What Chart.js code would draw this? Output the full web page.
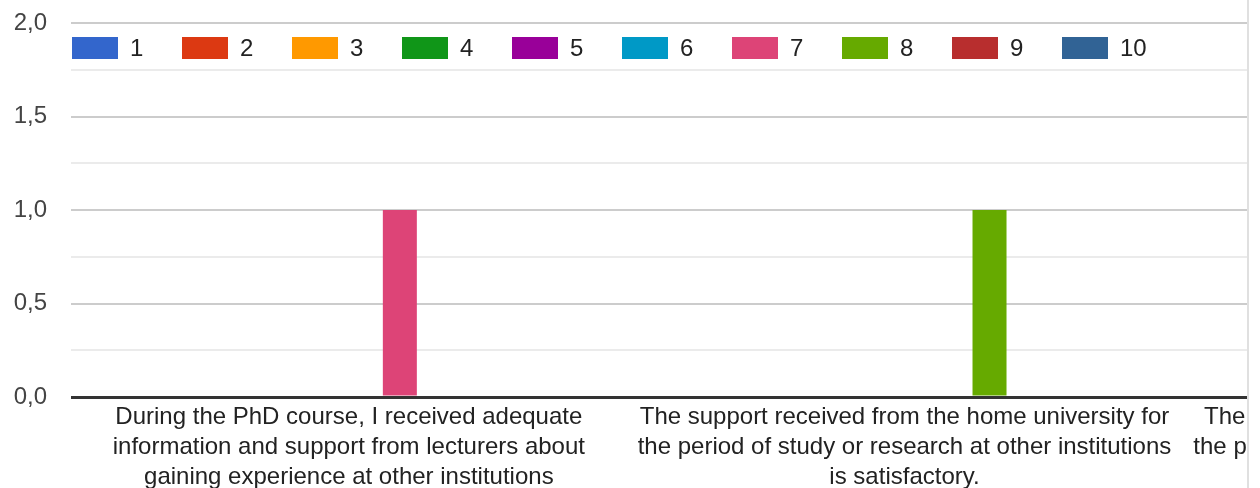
<!DOCTYPE html>
<html>
<head>
<meta charset="utf-8">
<script src="https://cdn.jsdelivr.net/npm/chart.js@4.4.1/dist/chart.umd.min.js"></script>
<style>
  html, body { margin: 0; padding: 0; background: #fff; overflow: hidden; }
  #wrap { width: 1247px; height: 488px; overflow: hidden; border-right: 2px solid #e0e0e0; position: relative; }
  #chart { display: block; }
</style>
</head>
<body>
<div id="wrap"><canvas id="chart" width="1738" height="500"></canvas></div>
<script>
// question labels, already split into lines
const categories = [
  ['During the PhD course, I received adequate', 'information and support from lecturers about', 'gaining experience at other institutions'],
  ['The support received from the home university for', 'the period of study or research at other institutions', 'is satisfactory.'],
  ['The home university recognised the results from', 'the period of study or research at other institutions', 'as part of the PhD programme.']
];

const seriesNames = ['1', '2', '3', '4', '5', '6', '7', '8', '9', '10'];
const seriesColors = ['#3366cc', '#dc3912', '#ff9900', '#109618', '#990099', '#0099c6', '#dd4477', '#66aa00', '#b82e2e', '#316395'];

// answers per rating (one value per category)
const r1 = [0, 0, 0];
const r2 = [0, 0, 0];
const r3 = [0, 0, 0];
const r4 = [0, 0, 0];
const r5 = [0, 0, 0];
const r6 = [0, 0, 0];
const r7 = [1, 0, 0];
const r8 = [0, 1, 0];
const r9 = [0, 0, 0];
const r10 = [0, 0, 0];
const seriesValues = [r1, r2, r3, r4, r5, r6, r7, r8, r9, r10];

const yTicks = [0, 0.5, 1, 1.5, 2];

const FONT = "'Liberation Sans', Arial, sans-serif";

// legend sits inside the plot, like the google forms chart
const insideLegend = {
  id: 'insideLegend',
  afterDraw(chart) {
    const ctx = chart.ctx;
    const left = chart.chartArea.left + 1;
    ctx.save();
    ctx.font = '24px ' + FONT;
    ctx.textBaseline = 'middle';
    ctx.textAlign = 'left';
    chart.data.datasets.forEach((ds, i) => {
      const x = left + i * 110;
      ctx.fillStyle = ds.backgroundColor;
      ctx.fillRect(x, 37, 46, 22);
      ctx.fillStyle = '#222';
      ctx.fillText(ds.label, x + 58, 49);
    });
    ctx.restore();
  }
};

const ctx = document.getElementById('chart').getContext('2d');
new Chart(ctx, {
  type: 'bar',
  data: {
    labels: categories,
    datasets: seriesNames.map((name, i) => ({
      label: name,
      data: seriesValues[i],
      backgroundColor: seriesColors[i],
      borderWidth: 0,
      barPercentage: 1,
      categoryPercentage: 0.612
    }))
  },
  options: {
    responsive: false,
    animation: false,
    layout: { padding: { top: 23, left: 0, right: 0, bottom: 0 } },
    plugins: {
      legend: { display: false },
      tooltip: { enabled: false }
    },
    scales: {
      x: {
        grid: { display: false, drawTicks: false },
        border: { display: false },
        ticks: {
          color: '#222',
          font: { family: FONT, size: 24, lineHeight: 1.25 },
          padding: 5,
          maxRotation: 0,
          autoSkip: false
        },
        afterFit: s => { s.height = 103; }
      },
      y: {
        min: 0,
        max: 2,
        border: { display: false },
        grid: {
          drawTicks: false,
          color: c => c.tick.value === 0 ? '#333' : (yTicks.includes(c.tick.value) ? '#cccccc' : '#ebebeb'),
          lineWidth: c => c.tick.value === 0 ? 3 : 2
        },
        ticks: {
          stepSize: 0.25,
          color: '#444',
          padding: 24,
          font: { family: FONT, size: 24 },
          callback: v => yTicks.includes(v) ? v.toFixed(1).replace('.', ',') : ''
        },
        afterFit: s => { s.width = 71; s.paddingTop = 0; s.paddingBottom = 0; }
      }
    }
  },
  plugins: [insideLegend]
});
</script>
</body>
</html>
